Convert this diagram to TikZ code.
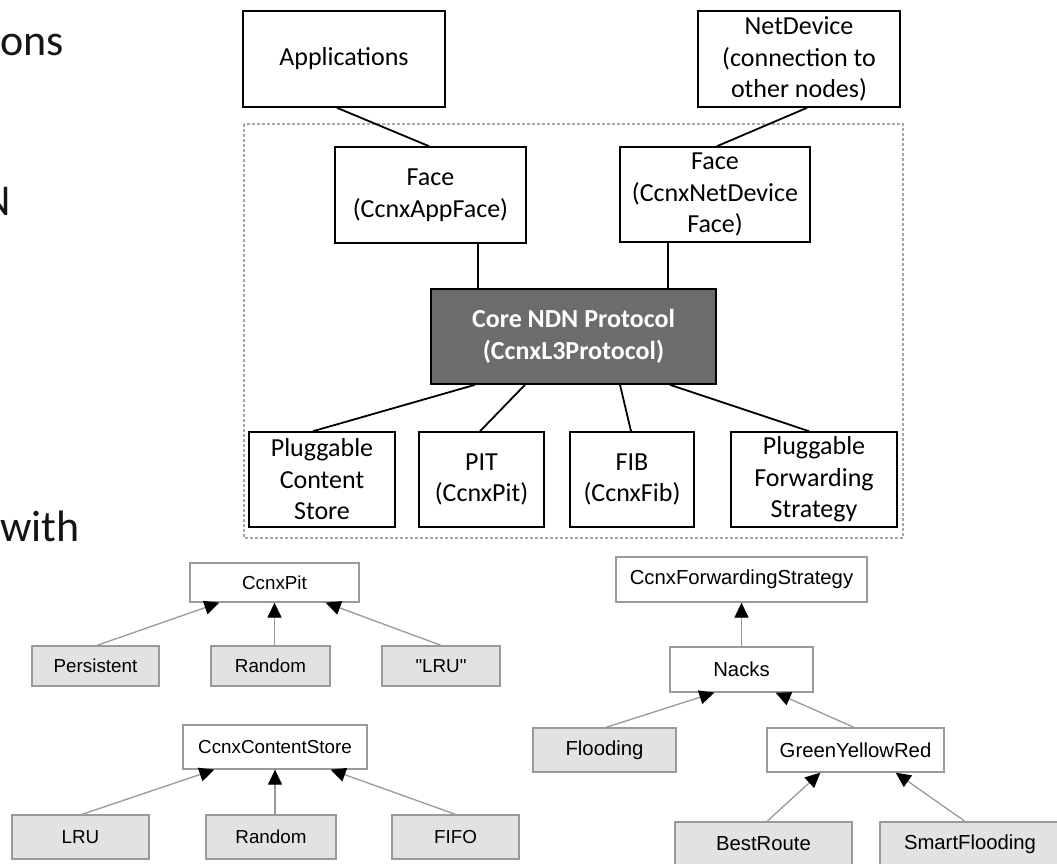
\documentclass[tikz,border=0pt]{standalone}
\usepackage{fontspec}
\usetikzlibrary{arrows.meta}
\newfontfamily\carlfont{Carlito}
\newfontfamily\arialfont{Liberation Sans}
\definecolor{coregray}{HTML}{6C6C6C}
\definecolor{implfill}{HTML}{E2E2E2}
\definecolor{umlline}{HTML}{9A9A9A}
\definecolor{slidetext}{HTML}{151515}

\tikzset{
  tbox/.style={draw=black, line width=1.6pt, fill=white, align=center, inner sep=0pt,
    font={\carlfont\fontsize{26pt}{31.5pt}\selectfont}},
  corebox/.style={tbox, fill=coregray, text=white,
    font={\carlfont\bfseries\fontsize{26pt}{31.5pt}\selectfont}},
  tline/.style={line width=1.8pt, draw=black},
  frame/.style={draw=gray!70, line width=1.2pt, dash pattern=on 3pt off 2pt},
  ubox/.style={draw=umlline, line width=1.3pt, fill=white, inner sep=0pt,
    font={\arialfont\fontsize{18.8pt}{22pt}\selectfont}},
  ibox/.style={ubox, fill=implfill},
  rbox/.style={ubox, font={\arialfont\fontsize{20.3pt}{24pt}\selectfont}},
  ribox/.style={rbox, fill=implfill},
  inherit/.style={draw=umlline, line width=1.3pt,
    -{Triangle[length=15pt,width=14pt,color=black,fill=black]}},
  slide/.style={anchor=base west, inner sep=0pt, text=slidetext,
    font={\carlfont\fontsize{44pt}{50pt}\selectfont}}
}

\begin{document}
\begin{tikzpicture}[x=1pt,y=-1pt]
\useasboundingbox (0,0) rectangle (1057,863);
\clip (0,0) rectangle (1057,863);
\fill[white] (0,0) rectangle (1057,863);

% slide text running in from the left
\node[slide] (s1) at (0,55) {ons};
\node[slide] (s2) at (-18,215) {N};
\node[slide] (s3) at (0,541) {with};

% node internals
\draw[frame] (244,124) rectangle (903,538);

\node[tbox, minimum width=202pt, minimum height=96pt] (app) at (344,59) {Applications};
\node[tbox, minimum width=202pt, minimum height=96pt] (net) at (799,59) {NetDevice\\(connection to\\other nodes)};

\node[tbox, minimum width=191pt, minimum height=96pt] (f1) at (430.5,195) {Face\\(CcnxAppFace)};
\node[tbox, minimum width=190pt, minimum height=95pt] (f2) at (715,194.5) {Face\\(CcnxNetDevice\\Face)};

\node[corebox, minimum width=285pt, minimum height=95pt] (core) at (573.5,336.5) {Core NDN Protocol\\(CcnxL3Protocol)};

\node[tbox, minimum width=146pt, minimum height=95pt] (pcs) at (322,479.5) {Pluggable\\Content\\Store};
\node[tbox, minimum width=125pt, minimum height=95pt] (pit) at (481.5,479.5) {PIT\\(CcnxPit)};
\node[tbox, minimum width=124pt, minimum height=95pt] (fib) at (632,479.5) {FIB\\(CcnxFib)};
\node[tbox, minimum width=166pt, minimum height=95pt] (pfs) at (814,479.5) {Pluggable\\Forwarding\\Strategy};

\draw[tline] ([xshift=-7pt]app.south) -- ([xshift=-1.5pt]f1.north);
\draw[tline] ([xshift=8pt]net.south) -- ([xshift=2pt]f2.north);
\draw[tline] ([xshift=47.5pt]f1.south) -- ([xshift=47.5pt]f1.south |- core.north);
\draw[tline] ([xshift=-47pt]f2.south) -- ([xshift=-47pt]f2.south |- core.north);
\draw[tline] ([xshift=-98.5pt]core.south) -- ([xshift=-9pt]pcs.north);
\draw[tline] ([xshift=-48.5pt]core.south) -- ([xshift=-1.5pt]pit.north);
\draw[tline] ([xshift=46.5pt]core.south) -- ([xshift=-1pt]fib.north);
\draw[tline] ([xshift=96.5pt]core.south) -- ([xshift=-5pt]pfs.north);

% PIT hierarchy
\node[ubox, minimum width=169pt, minimum height=39pt] (pitc) at (274.5,582.5) {CcnxPit};
\node[ibox, minimum width=127pt, minimum height=40pt] (pers) at (95.5,666) {Persistent};
\node[ibox, minimum width=119pt, minimum height=40pt] (rnd1) at (270.5,666) {Random};
\node[ibox, minimum width=118pt, minimum height=40pt] (lruq) at (441,666) {"LRU"};
\draw[inherit] ([xshift=1.5pt]pers.north) -- ([xshift=30pt]pitc.south west);
\draw[inherit] (pitc.south |- rnd1.north) -- (pitc.south);
\draw[inherit] (lruq.north) -- ([xshift=-34pt]pitc.south east);

% content store hierarchy
\node[ubox, minimum width=184pt, minimum height=44pt] (csc) at (275,747) {CcnxContentStore};
\node[ibox, minimum width=137pt, minimum height=44pt] (lru) at (80.5,837) {LRU};
\node[ibox, minimum width=130pt, minimum height=44pt] (rnd2) at (271,837) {Random};
\node[ibox, minimum width=127pt, minimum height=44pt] (fifo) at (455.5,837) {FIFO};
\draw[inherit] ([xshift=1.5pt]lru.north) -- ([xshift=32pt]csc.south west);
\draw[inherit] (csc.south |- rnd2.north) -- (csc.south);
\draw[inherit] (fifo.north) -- ([xshift=-37pt]csc.south east);

% forwarding strategy hierarchy
\node[rbox, minimum width=251pt, minimum height=45pt] (cfs) at (741.5,579.5) {CcnxForwardingStrategy};
\node[rbox, minimum width=143pt, minimum height=45pt] (nacks) at (741.5,669.5) {Nacks};
\node[ribox, minimum width=143pt, minimum height=44pt] (flood) at (604.5,750) {Flooding};
\node[rbox, minimum width=177pt, minimum height=44pt] (gyr) at (855.5,750) {GreenYellowRed};
\node[ribox, minimum width=177pt, minimum height=44pt] (best) at (763.5,844) {BestRoute};
\node[ribox, minimum width=180pt, minimum height=44pt] (smart) at (970,844) {SmartFlooding};
\draw[inherit] (nacks.north) -- (cfs.south);
\draw[inherit] ([xshift=1.5pt]flood.north) -- ([xshift=45pt]nacks.south west);
\draw[inherit] ([xshift=-1.5pt]gyr.north) -- ([xshift=-38pt]nacks.south east);
\draw[inherit] ([xshift=3.5pt]best.north) -- ([xshift=54pt]gyr.south west);
\draw[inherit] ([xshift=-5pt]smart.north) -- ([xshift=-49pt]gyr.south east);
\end{tikzpicture}
\end{document}
